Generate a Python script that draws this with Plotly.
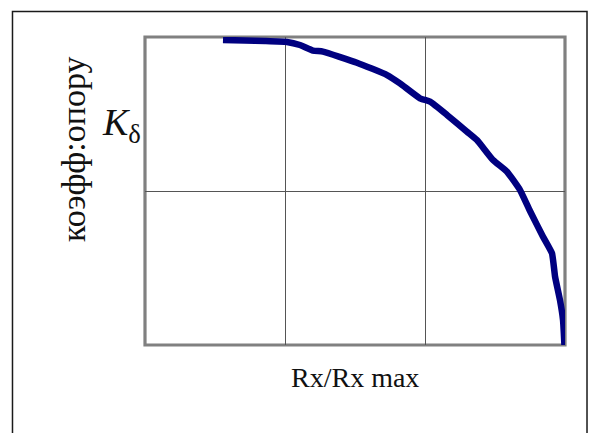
import plotly.graph_objects as go

# Normalised load ratio Rx/Rx max (0..3 grid units) and resistance coefficient K_delta (0..2 grid units)
ratio = [0.557, 0.714, 0.857, 1.014, 1.107, 1.2, 1.271, 1.514, 1.729, 1.821, 1.964, 2.036,
         2.157, 2.3, 2.371, 2.486, 2.586, 2.679, 2.75, 2.843, 2.907, 2.929, 2.964, 2.986, 2.996]
k_delta = [1.981, 1.977, 1.974, 1.968, 1.948, 1.912, 1.905, 1.833, 1.753, 1.699, 1.602, 1.580,
           1.494, 1.385, 1.331, 1.201, 1.125, 1.006, 0.870, 0.703, 0.595, 0.444, 0.292, 0.162, 0.0]

x_title = "Rx/Rx max"
y_title = "коэфф:опору"
k_label = "<i>K</i><sub>δ</sub>"

serif = "Liberation Serif, Times New Roman, serif"

fig = go.Figure()
fig.add_trace(go.Scatter(
    x=ratio, y=k_delta, mode="lines",
    line=dict(color="#000080", width=6.5, shape="spline", smoothing=0.4),
    hoverinfo="skip", showlegend=False,
))

axis_common = dict(
    showticklabels=False, ticks="", zeroline=False,
    showgrid=True, gridcolor="#555555", gridwidth=1.3, dtick=1,
    showline=False, fixedrange=True,
)
fig.update_xaxes(range=[0, 3], **axis_common)
fig.update_yaxes(range=[0, 2], **axis_common)

fig.update_layout(
    width=590, height=433,
    margin=dict(l=145, r=25, t=37, b=88),
    paper_bgcolor="white", plot_bgcolor="white",
    shapes=[
        # plot frame
        dict(type="rect", xref="paper", yref="paper", x0=0, x1=1, y0=0, y1=1,
             line=dict(color="#808080", width=3.2), layer="below"),
        # outer page frame
        dict(type="rect", xref="paper", yref="paper",
             x0=-0.3155, x1=1.0524, y0=-0.32, y1=1.0828,
             line=dict(color="#1a1a1a", width=1.5), layer="below"),
    ],
    annotations=[
        dict(text=y_title, xref="paper", yref="paper", x=-0.1714, y=0.636,
             textangle=-90, showarrow=False, xanchor="center", yanchor="middle",
             font=dict(family=serif, size=34, color="#111")),
        dict(text=k_label, xref="paper", yref="paper", x=-0.005, y=0.714,
             showarrow=False, xanchor="right", yanchor="middle",
             font=dict(family=serif, size=38, color="#111")),
        dict(text=x_title, xref="paper", yref="paper", x=0.499, y=-0.107,
             showarrow=False, xanchor="center", yanchor="middle",
             font=dict(family=serif, size=28, color="#111")),
    ],
)

fig.write_html("out.html")
